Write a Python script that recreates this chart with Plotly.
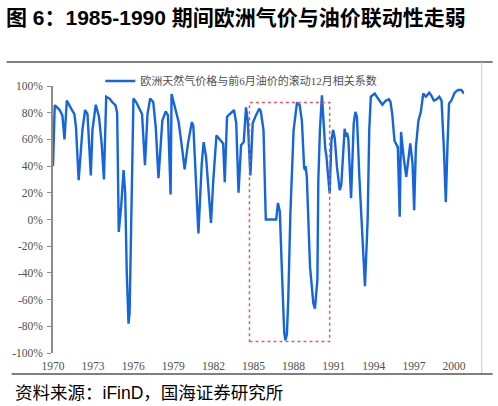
import plotly.graph_objects as go

# monthly-ish points (decimal year, correlation in %)
years = [
    1970.0, 1970.13, 1970.5, 1970.7, 1970.86, 1971.03, 1971.36, 1971.6, 1971.72, 1971.92,
    1972.2, 1972.4, 1972.58, 1972.83, 1972.95, 1973.2, 1973.44, 1973.64, 1973.81, 1973.98,
    1974.23, 1974.42, 1974.67, 1974.8, 1974.92, 1975.1, 1975.28, 1975.4, 1975.52, 1975.65,
    1975.73, 1975.85, 1976.02, 1976.22, 1976.46, 1976.66, 1976.88, 1977.07, 1977.27, 1977.5,
    1977.69, 1977.89, 1978.18, 1978.43, 1978.6, 1978.8, 1978.87, 1979.17, 1979.4, 1979.65,
    1979.85, 1980.1, 1980.39, 1980.5, 1980.64, 1980.88, 1981.13, 1981.27, 1981.45, 1981.62,
    1981.82, 1981.99, 1982.23, 1982.48, 1982.73, 1982.85, 1983.02, 1983.22, 1983.54, 1983.71,
    1983.88, 1984.07, 1984.27, 1984.44, 1984.57, 1984.77, 1984.94, 1985.18, 1985.43, 1985.55,
    1985.75, 1985.92, 1986.7, 1986.83, 1986.97, 1987.15, 1987.3, 1987.39, 1987.5, 1987.6,
    1987.76, 1988.0, 1988.25, 1988.45, 1988.62, 1988.79, 1988.85, 1988.9, 1988.99, 1989.23,
    1989.48, 1989.6, 1989.78, 1989.85, 1989.97, 1990.12, 1990.26, 1990.37, 1990.45, 1990.7,
    1990.83, 1990.96, 1991.08, 1991.25, 1991.45, 1991.57, 1991.82, 1991.9, 1992.0, 1992.1,
    1992.3, 1992.5, 1992.62, 1992.74, 1992.92, 1993.17, 1993.34, 1993.54, 1993.66, 1993.78,
    1994.07, 1994.32, 1994.64, 1994.89, 1995.13, 1995.25, 1995.38, 1995.55, 1995.7, 1995.8,
    1995.94, 1996.04, 1996.23, 1996.43, 1996.73, 1996.9, 1997.02, 1997.15, 1997.34, 1997.52,
    1997.7, 1997.9, 1998.15, 1998.3, 1998.5, 1998.7, 1998.9, 1999.07, 1999.24, 1999.39,
    1999.51, 1999.63, 1999.8, 2000.05, 2000.3, 2000.55, 2000.74,
]
corr = [
    40, 85.6, 82, 78, 60, 89, 83, 79, 69, 29.4,
    67, 82, 79, 33, 67, 86, 77, 57, 30, 92,
    90.6, 88, 85.6, 80, -9.3, 10, 37, 20, -40, -78,
    -70, 0, 90.6, 88, 83, 79, 40.7, 79, 90.6, 88,
    69, 31, 74, 81, 78, 18.7, 94, 82, 73, 54,
    37.5, 57, 73, 70, 39, -10.5, 42, 58, 47, 22,
    -2.5, 29, 63, 60, 57, 28, 77, 79, 82, 72,
    20, 55.7, 58, 84, 74, 33, 72, 78, 83, 81,
    67, 0, 0, 12.4, 6, -45, -85, -90.4, -86, -60,
    4.5, 67, 87, 86, 74, 39, 37, 40, 32, -35.5,
    -63, -66.7, -45, 29, 67, 93, 67, 53, 48, 19.5,
    59, 67, 61, 39, 22, 26, 68, 62, 65, 60,
    16, 72, 80.6, 77, 32, -13, -50, -0.5, 67, 92,
    94.4, 90.6, 86, 89, 90, 88, 79, 59, 55.6, 54,
    2, 65.6, 47, 32, 57, 42, 7, 54, 74, 80.6,
    94.4, 92, 95, 93, 89, 90, 92, 89, 54, 13,
    54, 87, 89, 95, 97, 97, 94.4,
]

x_ticks = list(range(1970, 2001, 3))
y_ticks = list(range(-100, 101, 20))
y_ticktext = [f"{v}%" for v in y_ticks]

# highlighted window
box_x0, box_x1 = 1984.7, 1990.7
box_y0, box_y1 = -91.4, 87.6

# plot area in pixels, used to place the decorations
PLOT_L, PLOT_R, PLOT_T, PLOT_B = 47, 464, 86, 353


def paper_x(px):
    return (px - PLOT_L) / (PLOT_R - PLOT_L)


def paper_y(py):
    return (PLOT_B - py) / (PLOT_B - PLOT_T)


serif = "'Times New Roman', 'Liberation Serif', 'Noto Sans CJK SC', serif"
label_grey = "#505050"
axis_grey = "#8c8c8c"

fig = go.Figure()
fig.add_trace(go.Scatter(
    x=years, y=corr, mode="lines",
    name="欧洲天然气价格与前6月油价的滚动12月相关系数",
    line=dict(color="#1565dc", width=2.4),
))

fig.update_layout(
    width=498, height=406,
    margin=dict(l=PLOT_L, r=498 - PLOT_R, t=PLOT_T, b=406 - PLOT_B),
    plot_bgcolor="white", paper_bgcolor="white",
    title=dict(
        text="<b>图 6：1985-1990 期间欧洲气价与油价联动性走弱</b>",
        font=dict(family="Liberation Sans, Noto Sans CJK SC", size=21, color="black"),
        x=6 / 498, xanchor="left", xref="container",
        y=1 - 18 / 406, yanchor="middle", yref="container",
    ),
    showlegend=True,
    legend=dict(
        x=paper_x(95), y=paper_y(81), xanchor="left", yanchor="middle",
        font=dict(family=serif, size=11, color=label_grey),
        bgcolor="rgba(0,0,0,0)",
    ),
    xaxis=dict(
        range=[1970, 2000.75], tickvals=x_ticks, ticktext=[str(t) for t in x_ticks],
        showline=False, showgrid=False, zeroline=False, ticks="",
        ticklabelstandoff=4,
        tickfont=dict(family=serif, size=11.5, color=label_grey),
    ),
    xaxis2=dict(
        overlaying="x", matches="x", anchor="free", position=0.5,
        tickvals=x_ticks, showticklabels=False, showgrid=False, zeroline=False,
        showline=True, linecolor=axis_grey, linewidth=1.5,
        ticks="inside", ticklen=3, tickcolor=axis_grey,
    ),
    yaxis=dict(
        range=[-100, 100], tickvals=y_ticks, ticktext=y_ticktext,
        showline=True, linecolor=axis_grey, linewidth=1.5,
        ticks="outside", ticklen=4, tickcolor=axis_grey,
        showgrid=False, zeroline=False, ticklabelstandoff=2,
        tickfont=dict(family=serif, size=11.5, color=label_grey),
    ),
)

shapes = [
    dict(type="rect", xref="x", yref="y", x0=box_x0, x1=box_x1, y0=box_y0, y1=box_y1,
         line=dict(color="#f0545a", width=1.5, dash="dot")),
    dict(type="line", xref="paper", yref="paper",
         x0=paper_x(0), x1=paper_x(493), y0=paper_y(62), y1=paper_y(62),
         line=dict(color="#7f7f7f", width=2)),
    dict(type="line", xref="paper", yref="paper",
         x0=paper_x(482), x1=paper_x(482), y0=paper_y(62), y1=paper_y(374),
         line=dict(color="#c8c8c8", width=1)),
    dict(type="line", xref="paper", yref="paper",
         x0=paper_x(5), x1=paper_x(493), y0=paper_y(374), y1=paper_y(374),
         line=dict(color="#7f7f7f", width=2)),
]
fig.update_layout(shapes=shapes)

fig.add_annotation(
    text="资料来源：iFinD，国海证券研究所",
    xref="paper", yref="paper", x=paper_x(6), y=paper_y(393),
    xanchor="left", yanchor="middle", showarrow=False,
    font=dict(family="Liberation Sans, Noto Sans CJK SC", size=17.5, color="black"),
)

# drop the browser's default page margin so the figure sits at the window corner
fig.write_html(
    "out.html",
    config={"displayModeBar": False},
    post_script="document.body.style.margin='0';",
)
